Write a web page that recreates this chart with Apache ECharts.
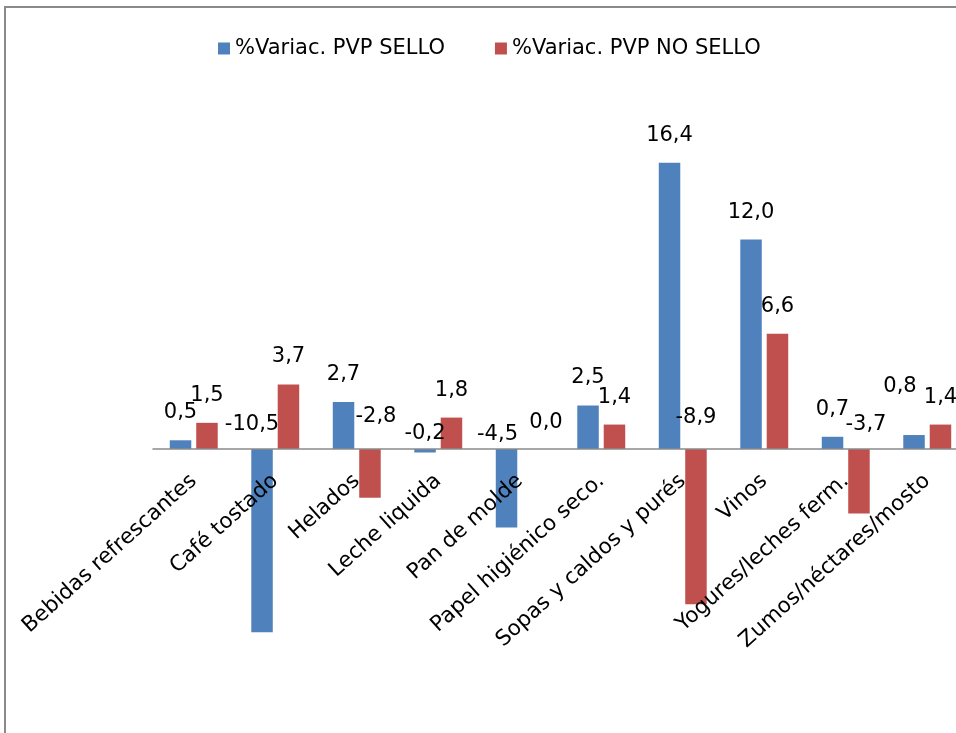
<!DOCTYPE html>
<html>
<head>
<meta charset="utf-8">
<script src="https://cdn.jsdelivr.net/npm/echarts@6/dist/echarts.min.js"></script>
<style>
  html, body { margin: 0; padding: 0; background: #ffffff; }
  #chart { width: 956px; height: 733px; }
</style>
</head>
<body>
<div id="chart"></div>
<script>
// Product categories
const categories = [
  'Bebidas refrescantes', 'Café tostado', 'Helados', 'Leche liquida', 'Pan de molde',
  'Papel higiénico seco.', 'Sopas y caldos y purés', 'Vinos', 'Yogures/leches ferm.', 'Zumos/néctares/mosto'
];
// Series names
const seriesNames = ['%Variac. PVP SELLO', '%Variac. PVP NO SELLO'];
// Price variation (%) per category
const selloValues = [0.5, -10.5, 2.7, -0.2, -4.5, 2.5, 16.4, 12.0, 0.7, 0.8];
const noSelloValues = [1.5, 3.7, -2.8, 1.8, 0.0, 1.4, -8.9, 6.6, -3.7, 1.4];

// Value axis range
const Y_MIN = -15, Y_MAX = 20, Y_STEP = 5;

// Small label nudges [dx, dy] so crowded value labels stay readable
const labelNudge = [
  { 1: [-10, 3], 3: [0, 12], 4: [-9, 13], 9: [-14, -21] },
  { 2: [6, -5], 4: [13, 1], 6: [0, -4], 8: [7, 3] }
];

const FONT = 'DejaVu Sans';
const fmt = v => v.toFixed(1).replace('.', ',');

function buildData(values, s) {
  return values.map((v, i) => {
    const item = { value: v };
    if (labelNudge[s][i]) item.label = { offset: labelNudge[s][i] };
    return item;
  });
}

const colors = ['#4F81BD', '#C0504D'];

// Plot area geometry
const GRID_TOP = 100, GRID_BOTTOM_Y = 710.75;
// Distance from the plot bottom up to the zero line, used to put the category axis on zero
const zeroShift = (GRID_BOTTOM_Y - GRID_TOP) * (0 - Y_MIN) / (Y_MAX - Y_MIN);

const chart = echarts.init(document.getElementById('chart'), null, { renderer: 'canvas' });
chart.setOption({
  animation: false,
  backgroundColor: '#ffffff',
  color: colors,
  textStyle: { fontFamily: FONT },
  graphic: [{
    type: 'polyline',
    shape: { points: [[5, 733], [5, 7], [956, 7]] },
    style: { stroke: '#8a8a8a', lineWidth: 2, fill: null },
    silent: true
  }],
  legend: {
    left: 213,
    top: 33,
    itemWidth: 12,
    itemHeight: 12,
    itemGap: 50,
    icon: 'rect',
    textStyle: { fontFamily: FONT, fontSize: 21, color: '#000000' },
    data: seriesNames
  },
  grid: {
    left: 153, right: -12, top: GRID_TOP, bottom: 733 - GRID_BOTTOM_Y,
    containLabel: false,
    outerBoundsMode: 'none'
  },
  xAxis: {
    type: 'category',
    data: categories,
    position: 'bottom',
    offset: -zeroShift,
    z: 10,
    axisLine: { onZero: false, lineStyle: { color: '#8a8a8a', width: 1.5 } },
    axisTick: { show: false },
    axisLabel: {
      interval: 0,
      rotate: 42,
      margin: 29,
      fontFamily: FONT,
      fontSize: 21.5,
      color: '#000000',
      hideOverlap: false
    },
    splitLine: { show: false }
  },
  yAxis: {
    type: 'value',
    min: Y_MIN,
    max: Y_MAX,
    interval: Y_STEP,
    show: false,
    splitLine: { show: false }
  },
  series: [selloValues, noSelloValues].map((vals, s) => ({
    name: seriesNames[s],
    type: 'bar',
    barWidth: 21.5,
    barGap: '23%',
    data: buildData(vals, s),
    label: {
      show: true,
      position: 'top',
      distance: 17,
      fontFamily: FONT,
      fontSize: 21,
      color: '#000000',
      formatter: p => fmt(p.value)
    }
  }))
});
</script>
</body>
</html>
